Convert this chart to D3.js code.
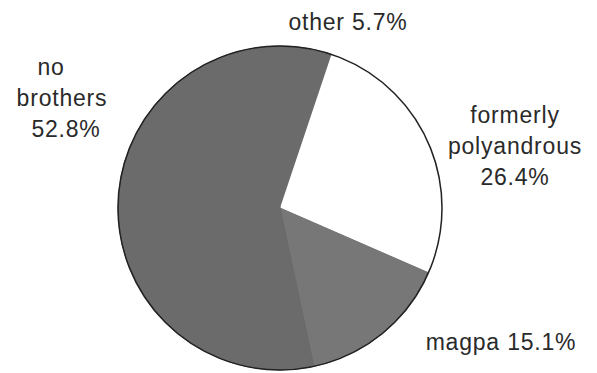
<!DOCTYPE html>
<html>
<head>
<meta charset="utf-8">
<script src="https://cdn.jsdelivr.net/npm/d3@7"></script>
<style>
  html, body { margin:0; padding:0; background:#fff; }
  svg text { font-family: "Liberation Sans", Arial, sans-serif; font-size:23px; fill:#2a2a2a; letter-spacing:0.8px; }
</style>
</head>
<body>
<svg id="chart" width="597" height="373"></svg>
<script>
// data
const categories = ['other', 'formerly polyandrous', 'magpa', 'no brothers'];
const values     = [5.7, 26.4, 15.1, 52.8];
const labelLines = [['other 5.7%'], ['formerly', 'polyandrous', '26.4%'], ['magpa 15.1%'], ['no', 'brothers', '52.8%']];

// look
const fills = ['#6b6b6b', '#ffffff', '#777777', '#6b6b6b'];
const labelPos = [
  {x: 348, y: 30,  anchor: 'middle'},
  {x: 515, y: 123, anchor: 'middle'},
  {x: 501, y: 350, anchor: 'middle'},
  {x: 62,  y: 75,  anchor: 'middle'}
];
const lineDx = [[0], [0, 0, 0], [0], [-11, 0, 4]];

const cx = 280, cy = 208, r = 162;
const offset = -2 * Math.PI / 180;

const svg = d3.select('#chart');
const g = svg.append('g').attr('transform', `translate(${cx},${cy})`);

const pie = d3.pie().sort(null).value(d => d)
  .startAngle(offset).endAngle(2 * Math.PI + offset);
const arc = d3.arc().innerRadius(0).outerRadius(r);
const arcs = pie(values);

// grey base so same-colour slices show no seam
g.append('circle').attr('r', r).attr('fill', fills[3]);

g.selectAll('path.slice').data(arcs).enter().append('path')
  .attr('class', 'slice')
  .attr('d', arc)
  .attr('fill', (_, i) => fills[i])
  .attr('stroke', (_, i) => i === 1 ? 'none' : fills[i])
  .attr('stroke-width', 1);

// outline
g.append('circle').attr('r', r).attr('fill', 'none')
  .attr('stroke', '#222').attr('stroke-width', 1.5);

// labels
labelLines.forEach((lines, i) => {
  const p = labelPos[i];
  const t = svg.append('text')
    .attr('x', p.x).attr('y', p.y)
    .attr('text-anchor', p.anchor);
  lines.forEach((ln, j) => {
    t.append('tspan')
      .attr('x', p.x + lineDx[i][j])
      .attr('y', p.y + j * 31)
      .text(ln);
  });
});
</script>
</body>
</html>
